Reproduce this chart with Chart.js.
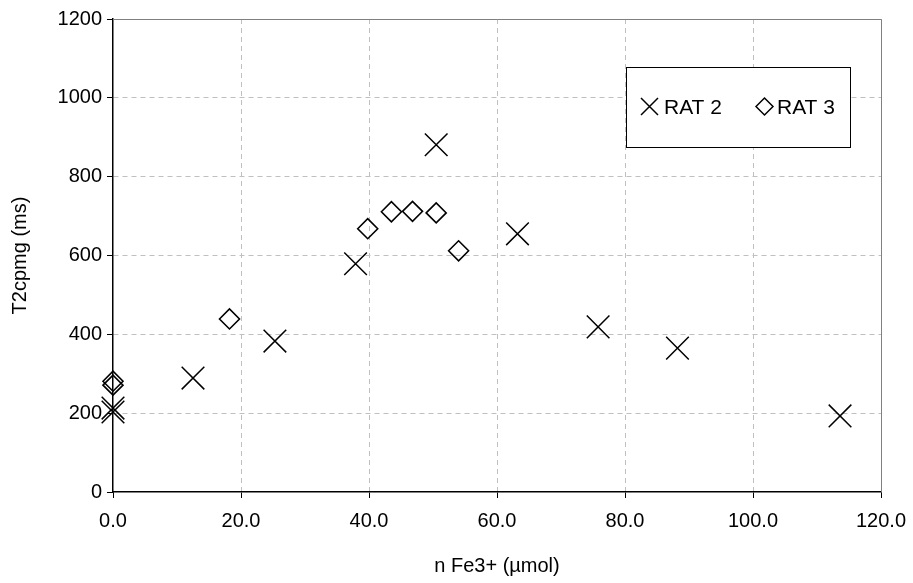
<!DOCTYPE html>
<html>
<head>
<meta charset="utf-8">
<script src="https://cdn.jsdelivr.net/npm/chart.js@4.4.0/dist/chart.umd.min.js"></script>
<style>
html,body{margin:0;padding:0;background:#fff;}
#wrap{width:913px;height:583px;}
</style>
</head>
<body>
<div id="wrap"><canvas id="c" width="913" height="583"></canvas></div>
<script>
const rat2X = [0, 0, 12.5, 25.3, 37.9, 50.5, 63.2, 75.8, 88.2, 113.6];
const rat2Y = [203, 213, 289, 383, 579, 881, 655, 419, 365, 193];
const rat3X = [0, 0, 18.2, 39.8, 43.5, 46.8, 50.5, 54.0];
const rat3Y = [271, 281, 439, 668, 711, 712, 708, 612];
const seriesNames = ['RAT 2', 'RAT 3'];
const xTicks = [0, 20, 40, 60, 80, 100, 120];
const yTicks = [0, 200, 400, 600, 800, 1000, 1200];

const toPts = (xs, ys) => xs.map((x, i) => ({x: x, y: ys[i]}));
const FONT = 'Liberation Sans, Arial, sans-serif';

const framePlugin = {
  id: 'frame',
  afterDraw(chart) {
    const {ctx, chartArea: a} = chart;
    ctx.save();
    ctx.strokeStyle = '#808080';
    ctx.lineWidth = 1;
    ctx.beginPath();
    ctx.moveTo(a.left, a.top + 0.5);
    ctx.lineTo(a.right + 0.5, a.top + 0.5);
    ctx.lineTo(a.right + 0.5, a.bottom);
    ctx.stroke();
    ctx.restore();
  }
};

const legendPlugin = {
  id: 'boxLegend',
  afterDraw(chart) {
    const ctx = chart.ctx;
    const bx = 626, by = 67, bw = 224, bh = 80;
    ctx.save();
    ctx.fillStyle = '#fff';
    ctx.fillRect(bx, by, bw, bh);
    ctx.strokeStyle = '#000';
    ctx.lineWidth = 1;
    ctx.strokeRect(bx + 0.5, by + 0.5, bw, bh);
    const cy = 106.5;
    ctx.lineWidth = 1.5;
    const cx1 = 649.5, r1 = 8.5;
    ctx.beginPath();
    ctx.moveTo(cx1 - r1, cy - r1); ctx.lineTo(cx1 + r1, cy + r1);
    ctx.moveTo(cx1 + r1, cy - r1); ctx.lineTo(cx1 - r1, cy + r1);
    ctx.stroke();
    const cx2 = 764.5, r2 = 8.5;
    ctx.beginPath();
    ctx.moveTo(cx2 - r2, cy); ctx.lineTo(cx2, cy - r2);
    ctx.lineTo(cx2 + r2, cy); ctx.lineTo(cx2, cy + r2);
    ctx.closePath();
    ctx.stroke();
    ctx.fillStyle = '#000';
    ctx.font = '21px ' + FONT;
    ctx.textBaseline = 'alphabetic';
    ctx.fillText(seriesNames[0], 664, 114);
    ctx.fillText(seriesNames[1], 777, 114);
    ctx.restore();
  }
};

new Chart(document.getElementById('c'), {
  type: 'scatter',
  data: {
    datasets: [
      {
        label: seriesNames[0],
        data: toPts(rat2X, rat2Y),
        pointStyle: 'crossRot',
        pointRadius: 16,
        pointHoverRadius: 16,
        borderColor: '#000',
        backgroundColor: 'rgba(0,0,0,0)',
        pointBorderWidth: 1.5,
        clip: false
      },
      {
        label: seriesNames[1],
        data: toPts(rat3X, rat3Y),
        pointStyle: 'rectRot',
        pointRadius: 10,
        pointHoverRadius: 10,
        borderColor: '#000',
        backgroundColor: 'rgba(0,0,0,0)',
        pointBorderWidth: 1.6,
        clip: false
      }
    ]
  },
  options: {
    responsive: false,
    animation: false,
    events: [],
    layout: {padding: {left: 0, right: 32, top: 19, bottom: 0}},
    plugins: {legend: {display: false}, tooltip: {enabled: false}},
    scales: {
      x: {
        type: 'linear',
        min: 0, max: 120,
        afterBuildTicks: s => { s.ticks = xTicks.map(v => ({value: v})); },
        afterFit: s => { s.height = 91; s.paddingLeft = 0; s.paddingRight = 0; },
        ticks: {
          callback: v => v.toFixed(1),
          color: '#000',
          font: {family: FONT, size: 20},
          padding: 11,
          maxRotation: 0
        },
        grid: {
          color: ctx => (ctx.tick && ctx.tick.value === 0) ? 'rgba(0,0,0,0)' : '#c0c0c0',
          tickColor: '#000',
          tickLength: 6,
          tickBorderDash: [],
          lineWidth: 1
        },
        border: {display: true, color: '#000', width: 1.5, dash: [5, 4]},
        title: {
          display: true,
          text: 'n Fe3+ (µmol)',
          color: '#000',
          font: {family: FONT, size: 20},
          padding: {top: 0, bottom: 5}
        }
      },
      y: {
        type: 'linear',
        min: 0, max: 1200,
        afterBuildTicks: s => { s.ticks = yTicks.map(v => ({value: v})); },
        afterFit: s => { s.width = 113; s.paddingTop = 0; s.paddingBottom = 0; },
        ticks: {
          callback: v => String(v),
          color: '#000',
          font: {family: FONT, size: 20},
          padding: 5
        },
        grid: {
          color: ctx => (ctx.tick && ctx.tick.value === 0) ? 'rgba(0,0,0,0)' : '#c0c0c0',
          tickColor: '#000',
          tickLength: 6,
          tickBorderDash: [],
          lineWidth: 1
        },
        border: {display: true, color: '#000', width: 1.5, dash: [5, 4]},
        title: {
          display: true,
          text: 'T2cpmg (ms)',
          color: '#000',
          font: {family: FONT, size: 20},
          padding: {top: 8, bottom: 0}
        }
      }
    }
  },
  plugins: [framePlugin, legendPlugin]
});
</script>
</body>
</html>
